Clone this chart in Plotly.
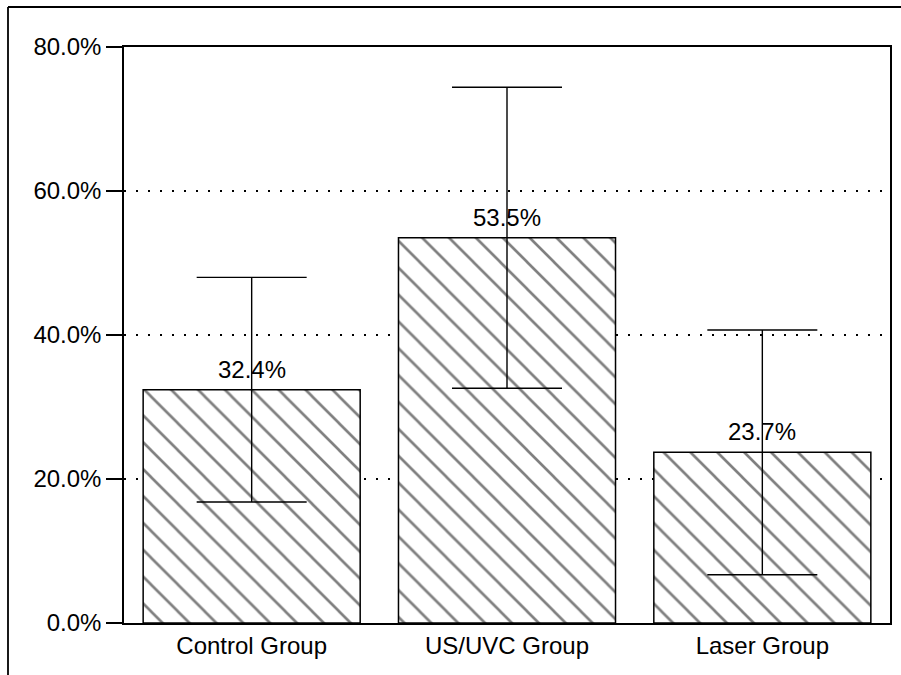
import plotly.graph_objects as go

categories = ["Control Group", "US/UVC Group", "Laser Group"]
values = [32.4, 53.5, 23.7]
errors = [15.6, 20.9, 17.0]
y_ticks = [0, 20, 40, 60, 80]
y_tick_labels = ["0.0%", "20.0%", "40.0%", "60.0%", "80.0%"]

FONT = "Liberation Sans, Arial, Helvetica, sans-serif"

fig = go.Figure()
fig.add_trace(go.Bar(
    x=categories,
    y=values,
    width=0.85,
    marker=dict(
        color="white",
        line=dict(color="black", width=1.5),
        pattern=dict(shape="\\", size=19, solidity=0.14, fgcolor="black", bgcolor="white"),
    ),
    error_y=dict(type="data", array=errors, visible=True, color="black", thickness=1.4, width=55),
    hoverinfo="skip",
))

for c, v in zip(categories, values):
    fig.add_annotation(x=c, y=v, text=f"{v:.1f}%", showarrow=False, yanchor="bottom",
                       yshift=5, font=dict(family=FONT, size=24, color="black"))

# outer frame (partially visible, like the scanned page)
W, H = 901, 675
L, R, T, B = 124, 11, 47, 52
pw, ph = W - L - R, H - T - B
fx = (8 - L) / pw
fy = (H - B - 7) / ph
fxr = (W - L + 5) / pw
fig.add_shape(type="line", xref="paper", yref="paper", x0=fx, x1=fx, y0=fy, y1=-0.2,
              line=dict(color="black", width=1.8))
fig.add_shape(type="line", xref="paper", yref="paper", x0=fx, x1=fxr, y0=fy, y1=fy,
              line=dict(color="black", width=1.8))

fig.update_layout(
    width=W, height=H,
    margin=dict(l=L, r=R, t=T, b=B),
    paper_bgcolor="white", plot_bgcolor="white",
    showlegend=False,
    font=dict(family=FONT, size=24, color="black"),
    bargap=0.15,
)
fig.update_xaxes(showline=True, linecolor="black", linewidth=1.5, mirror=True,
                 ticks="", showgrid=False, tickfont=dict(size=24))
fig.update_yaxes(range=[0, 80], tickvals=y_ticks, ticktext=y_tick_labels,
                 showline=True, linecolor="black", linewidth=1.5, mirror=True,
                 ticks="outside", ticklen=16, tickwidth=1.5, tickcolor="black",
                 showgrid=True, gridcolor="black", gridwidth=1.5, griddash="2px,10px",
                 zeroline=False, tickfont=dict(size=24), automargin=False)

fig.write_html("out.html", config={"displayModeBar": False},
               post_script="document.body.style.margin='0';document.body.style.overflow='hidden';")
